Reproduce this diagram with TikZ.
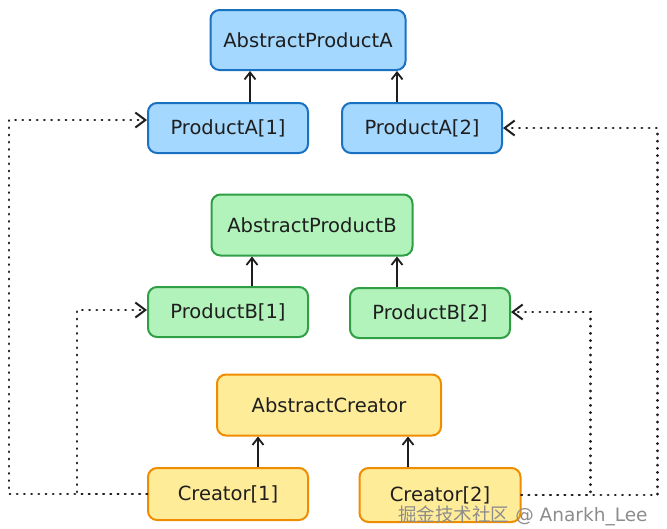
\documentclass[tikz,border=0pt]{standalone}
\usepackage{fontspec}
\setmainfont{DejaVu Sans}
\newfontfamily\cjkfont{Noto Sans CJK SC}
\usetikzlibrary{arrows.meta}

\definecolor{bluefill}{HTML}{A5D8FF}
\definecolor{blueline}{HTML}{1971C2}
\definecolor{greenfill}{HTML}{B2F2BB}
\definecolor{greenline}{HTML}{2F9E44}
\definecolor{yellowfill}{HTML}{FFEC99}
\definecolor{yellowline}{HTML}{F08C00}
\definecolor{ink}{HTML}{1E1E1E}

\tikzset{
  box/.style={draw, rounded corners=9pt, line width=2pt, inner sep=0pt, text=ink,
    minimum width=160pt, minimum height=50pt, font=\fontsize{19.5}{22}\selectfont},
  boxA/.style={box, draw=blueline, fill=bluefill},
  boxB/.style={box, draw=greenline, fill=greenfill},
  boxC/.style={box, draw=yellowline, fill=yellowfill},
  inherit/.style={draw=ink, line width=1.8pt, -{Straight Barb[length=7pt,width=11pt]}},
  dep/.style={draw=ink, line width=2.6pt, line cap=round, dash pattern=on 0.4pt off 6.8pt,
    -{Straight Barb[length=10pt,width=15pt,line width=2pt]}}
}

\begin{document}
\begin{tikzpicture}[x=1pt, y=-1pt]
  \useasboundingbox (0,0) rectangle (667,528);

  % products A
  \node[boxA, minimum width=195pt, minimum height=60pt] (apa) at (308,40) {AbstractProductA};
  \node[boxA] (pa1) at (228,128) {ProductA[1]};
  \node[boxA] (pa2) at (422,128) {ProductA[2]};

  % products B
  \node[boxB, minimum width=201pt, minimum height=61pt] (apb) at (312,225) {AbstractProductB};
  \node[boxB] (pb1) at (228,312) {ProductB[1]};
  \node[boxB] (pb2) at (430,313) {ProductB[2]};

  % creators
  \node[boxC, minimum width=224pt, minimum height=61pt] (ac) at (329,405) {AbstractCreator};
  \node[boxC, minimum height=52pt] (c1) at (228,494) {Creator[1]};
  \node[boxC, minimum width=161pt, minimum height=54pt] (c2) at (440,495) {Creator[2]};

  \draw[inherit] (pa1.north -| 250,0) -- (apa.south -| 250,0);
  \draw[inherit] (pa2.north -| 397,0) -- (apa.south -| 397,0);
  \draw[inherit] (pb1.north -| 252,0) -- (apb.south -| 252,0);
  \draw[inherit] (pb2.north -| 397,0) -- (apb.south -| 397,0);
  \draw[inherit] (c1.north -| 258,0) -- (ac.south -| 258,0);
  \draw[inherit] (c2.north -| 408,0) -- (ac.south -| 408,0);

  % creators to products
  \draw[dep] (c1.west) -- ++(-138,0) |- ([yshift=8pt]pa1.west);
  \draw[dep] (c1.west) -- ++(-70,0) |- ([yshift=2pt]pb1.west);
  \draw[dep] (c2.east) -- ++(136,0) |- (pa2.east);
  \draw[dep] (c2.east) -- ++(69,0) |- ([yshift=1pt]pb2.east);

  \node[text=black!45, font=\fontsize{18.5}{20}\selectfont] (mark) at (523,516)
    {{\cjkfont 掘金技术社区} @ Anarkh\_Lee};
\end{tikzpicture}
\end{document}
